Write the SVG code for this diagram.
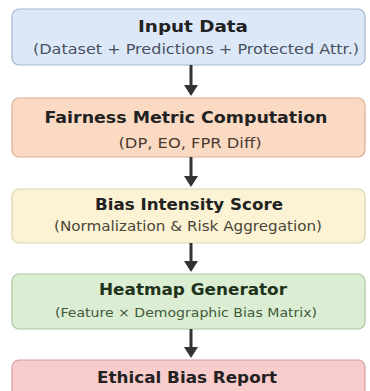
<svg xmlns="http://www.w3.org/2000/svg" width="370" height="391" viewBox="0 0 370 391">
<style>
.box{stroke-width:1.2}
.t{font-family:"DejaVu Sans","Open Sans",sans-serif;font-weight:700;font-size:16.5px;fill:#222;text-anchor:middle}
.s{font-family:"DejaVu Sans","Open Sans",sans-serif;font-size:13.8px;fill:#444;text-anchor:middle}
.ar{stroke:#333;stroke-width:3;fill:none}
.hd{fill:#333}
</style>
<rect width="370" height="391" fill="#ffffff"/>
<g id="n1">
<rect class="box" x="12" y="9" width="353" height="56" rx="7" fill="#dce8f8" stroke="#a3b6cf"/>
<text class="t" x="193" y="32" textLength="110" lengthAdjust="spacingAndGlyphs">Input Data</text>
<text class="s" x="196" y="54" style="fill:#4a5260" textLength="326" lengthAdjust="spacingAndGlyphs">(Dataset + Predictions + Protected Attr.)</text>
</g>
<g id="n2">
<rect class="box" x="12" y="98" width="353" height="59" rx="7" fill="#fbdac4" stroke="#dcae90"/>
<text class="t" x="186" y="123" textLength="283" lengthAdjust="spacingAndGlyphs">Fairness Metric Computation</text>
<text class="s" x="190" y="148" style="fill:#4d3a30" textLength="143" lengthAdjust="spacingAndGlyphs">(DP, EO, FPR Diff)</text>
</g>
<g id="n3">
<rect class="box" x="12" y="189" width="353" height="54" rx="7" fill="#fcf3d5" stroke="#dcd3aa"/>
<text class="t" x="189" y="210" textLength="188" lengthAdjust="spacingAndGlyphs">Bias Intensity Score</text>
<text class="s" x="188" y="231" style="fill:#4a4638" textLength="268" lengthAdjust="spacingAndGlyphs">(Normalization &amp; Risk Aggregation)</text>
</g>
<g id="n4">
<rect class="box" x="12" y="274" width="353" height="55" rx="7" fill="#dbedd2" stroke="#abc59e"/>
<text class="t" x="193" y="295" style="fill:#1f331c" textLength="188" lengthAdjust="spacingAndGlyphs">Heatmap Generator</text>
<text class="s" x="186" y="317" style="font-size:13px;fill:#3f5a3a" textLength="262" lengthAdjust="spacingAndGlyphs">(Feature × Demographic Bias Matrix)</text>
</g>
<g id="n5">
<rect class="box" x="12" y="360" width="353" height="40" rx="7" fill="#f9cccc" stroke="#d49e9e"/>
<text class="t" x="187" y="383" textLength="180" lengthAdjust="spacingAndGlyphs">Ethical Bias Report</text>
</g>
<g id="connectors">
<line class="ar" x1="191" y1="65" x2="191" y2="86"/>
<polygon class="hd" points="184,85 198,85 191,96"/>
<line class="ar" x1="191" y1="157" x2="191" y2="177"/>
<polygon class="hd" points="184,176 198,176 191,187"/>
<line class="ar" x1="191" y1="243" x2="191" y2="262"/>
<polygon class="hd" points="184,261 198,261 191,272"/>
<line class="ar" x1="191" y1="329" x2="191" y2="348"/>
<polygon class="hd" points="184,347 198,347 191,358"/>
</g>
</svg>
